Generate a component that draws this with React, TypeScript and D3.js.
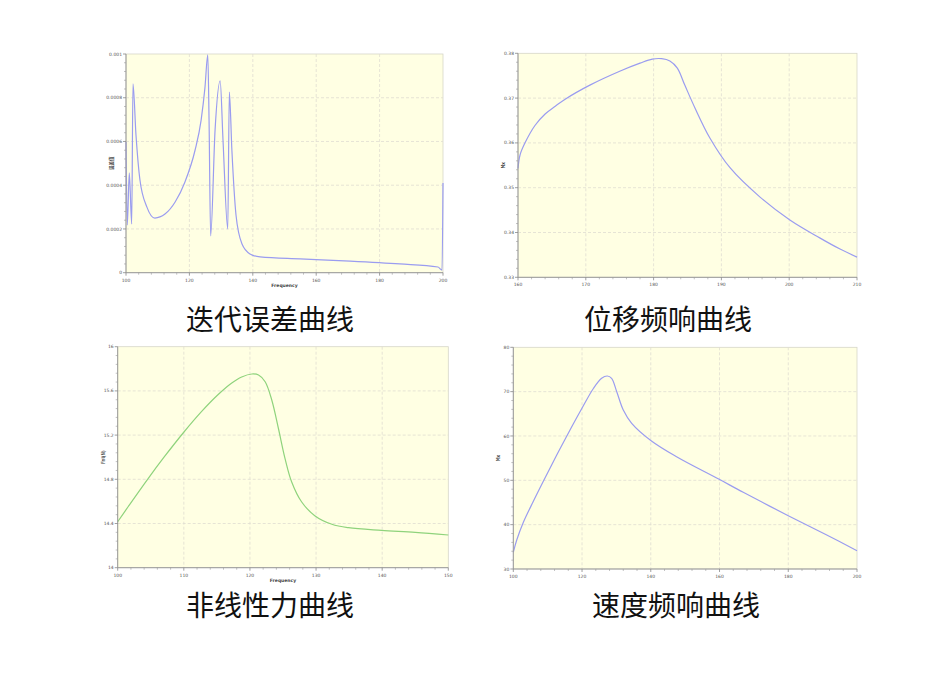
import React from 'react';
import * as d3 from 'd3';

// 迭代误差曲线
const errFreq = [100, 100.41, 101.04, 101.8, 102.2, 103.15, 104.4, 106.6, 109.1, 112.3, 115.5, 118.6, 121.8, 123.7, 124.9, 125.8, 126.2, 126.7, 128.1, 129.7, 130.6, 132.1, 132.6, 133.4, 134.7, 136.6, 139.1, 142.3, 154.9, 170.7, 186.4, 198.4, 199.7, 200];
const errValue = [0.000598, 0.000218, 0.000456, 0.000223, 0.000863, 0.00063, 0.000424, 0.0003, 0.00025, 0.000268, 0.000323, 0.000415, 0.000561, 0.000698, 0.000845, 0.000996, 0.000698, 0.000168, 0.000653, 0.000877, 0.000607, 0.0002, 0.000826, 0.000561, 0.000264, 0.000131, 0.000086, 0.000072, 0.000063, 0.000053, 0.00004, 0.000026, 0.000012, 0.00041];
const errXTicks = [100, 120, 140, 160, 180, 200];
const errYTicks = [0, 0.0002, 0.0004, 0.0006, 0.0008, 0.001];

// 位移频响曲线
const dispFreq = [160, 160.3, 161.0, 162.5, 164.0, 165.5, 166.9, 170.6, 175.0, 178.0, 179.8, 181.2, 182.4, 183.5, 184.6, 186.1, 188.3, 191.3, 195.7, 200.1, 204.5, 207.5, 210];
const dispValue = [0.3543, 0.3573, 0.3599, 0.36388, 0.36645, 0.36819, 0.36971, 0.3729, 0.376, 0.3778, 0.3787, 0.3788, 0.3783, 0.3767, 0.3729, 0.3678, 0.3611, 0.3544, 0.3479, 0.3428, 0.3388, 0.3363, 0.3345];
const dispXTicks = [160, 170, 180, 190, 200, 210];
const dispYTicks = [0.33, 0.34, 0.35, 0.36, 0.37, 0.38];

// 非线性力曲线
const forceFreq = [100, 101.6, 104.6, 107.15, 109.9, 112.7, 115.2, 117.2, 118.75, 120.3, 121.3, 122.3, 123.3, 124.3, 125.3, 126.3, 127.8, 129.8, 132.4, 134.9, 139.9, 145.0, 150];
const forceValue = [14.416, 14.554, 14.807, 15.011, 15.219, 15.414, 15.567, 15.669, 15.726, 15.753, 15.744, 15.683, 15.518, 15.262, 14.99, 14.778, 14.597, 14.471, 14.393, 14.362, 14.338, 14.32, 14.296];
const forceXTicks = [100, 110, 120, 130, 140, 150];
const forceYTicks = [14, 14.4, 14.8, 15.2, 15.6, 16];

// 速度频响曲线
const velFreq = [100, 101.0, 102.9, 105.8, 108.7, 112.6, 116.5, 120.1, 123.3, 125.7, 127.35, 128.6, 130.1, 132.0, 134.45, 140.1, 147.5, 159.9, 166.9, 180.0, 191.2, 200];
const velValue = [33.77, 36.54, 40.49, 45.22, 49.73, 55.64, 61.35, 66.42, 70.71, 73.01, 73.53, 73.01, 69.99, 65.86, 62.86, 58.94, 55.33, 50.23, 47.3, 42.02, 37.67, 34.13];
const velXTicks = [100, 120, 140, 160, 180, 200];
const velYTicks = [30, 40, 50, 60, 70, 80];

const BG = '#ffffe3';
const BLUE = '#9a9cf0';
const GREEN = '#8fd37c';
const CJK = '"Noto Sans CJK SC", "Noto Sans", sans-serif';

interface PanelProps {
  left: number;
  top: number;
  width: number;
  height: number;
  xs: number[];
  ys: number[];
  xTicks: number[];
  yTicks: number[];
  color: string;
  yTitle: string;
  xTitle?: string;
  caption: string;
  captionX: number;
  captionY: number;
  curve?: d3.CurveFactory;
}

const Panel: React.FC<PanelProps> = ({
  left, top, width, height, xs, ys, xTicks, yTicks, color, yTitle, xTitle, caption, captionX, captionY,
  curve = d3.curveCatmullRom.alpha(0.5)
}) => {
  const x = d3.scaleLinear().domain([xTicks[0], xTicks[xTicks.length - 1]]).range([0, width]);
  const y = d3.scaleLinear().domain([yTicks[0], yTicks[yTicks.length - 1]]).range([height, 0]);

  const line = d3.line<number>()
    .x((_, i) => x(xs[i]))
    .y((d) => y(d))
    .curve(curve);

  // 5 subdivisions between major ticks
  const minor = (ticks: number[]) => {
    const out: number[] = [];
    for (let i = 0; i < ticks.length - 1; i++) {
      const step = (ticks[i + 1] - ticks[i]) / 5;
      for (let k = 1; k < 5; k++) out.push(ticks[i] + step * k);
    }
    return out;
  };

  return (
    <g>
      <g transform={`translate(${left},${top})`}>
        <rect width={width} height={height} fill={BG} stroke="#d6d6c8" strokeWidth={0.8} />
        {/* grid */}
        {yTicks.slice(1, -1).map((t) => (
          <line key={'gy' + t} x1={0} x2={width} y1={y(t)} y2={y(t)}
            stroke="#e0ddd2" strokeWidth={0.8} strokeDasharray="3,2" />
        ))}
        {xTicks.slice(1, -1).map((t) => (
          <line key={'gx' + t} x1={x(t)} x2={x(t)} y1={0} y2={height}
            stroke="#e0ddd2" strokeWidth={0.8} strokeDasharray="3,2" />
        ))}
        <path d={line(ys) || ''} fill="none" stroke={color} strokeWidth={1.2} />
        {/* axes */}
        <line x1={0} x2={0} y1={0} y2={height} stroke="#9a9a9a" strokeWidth={1} />
        <line x1={0} x2={width} y1={height} y2={height} stroke="#9a9a9a" strokeWidth={1} />
        {yTicks.map((t) => (
          <g key={'ty' + t}>
            <line x1={-3} x2={0} y1={y(t)} y2={y(t)} stroke="#888" strokeWidth={0.8} />
            <text x={-4} y={y(t)} dy="0.35em" textAnchor="end" fontSize={4.5}
              fontFamily="DejaVu Sans, sans-serif" fill="#555">{String(t)}</text>
          </g>
        ))}
        {minor(yTicks).map((t, i) => (
          <line key={'my' + i} x1={-2} x2={0} y1={y(t)} y2={y(t)} stroke="#999" strokeWidth={0.6} />
        ))}
        {xTicks.map((t) => (
          <g key={'tx' + t}>
            <line x1={x(t)} x2={x(t)} y1={height} y2={height + 3} stroke="#888" strokeWidth={0.8} />
            <text x={x(t)} y={height + 9} textAnchor="middle" fontSize={4.5}
              fontFamily="DejaVu Sans, sans-serif" fill="#555">{String(t)}</text>
          </g>
        ))}
        {minor(xTicks).map((t, i) => (
          <line key={'mx' + i} x1={x(t)} x2={x(t)} y1={height} y2={height + 2} stroke="#999" strokeWidth={0.6} />
        ))}
        <text transform={`translate(${-13},${height / 2}) rotate(-90)`} textAnchor="middle"
          fontSize={4.5} fontWeight="bold" fontFamily={CJK} fill="#444">{yTitle}</text>
        {xTitle && (
          <text x={width / 2} y={height + 14} textAnchor="middle" fontSize={4.5} fontWeight="bold"
            fontFamily="DejaVu Sans, sans-serif" fill="#444">{xTitle}</text>
        )}
      </g>
      <text x={captionX} y={captionY} textAnchor="middle" fontSize={28} fontFamily={CJK} fill="#111">{caption}</text>
    </g>
  );
};

export default function App() {
  return (
    <svg width={951} height={680} style={{ position: 'absolute', left: 0, top: 0, background: '#fff' }}>
      <Panel left={126} top={54} width={317} height={218.7} xs={errFreq} ys={errValue}
        xTicks={errXTicks} yTicks={errYTicks} color={BLUE} yTitle="误差值" xTitle="Frequency"
        caption="迭代误差曲线" captionX={270} captionY={330} curve={d3.curveMonotoneX} />
      <Panel left={518} top={53.3} width={339} height={224} xs={dispFreq} ys={dispValue}
        xTicks={dispXTicks} yTicks={dispYTicks} color={BLUE} yTitle="Mx"
        caption="位移频响曲线" captionX={668} captionY={330} />
      <Panel left={117.7} top={346.7} width={330.6} height={221} xs={forceFreq} ys={forceValue}
        xTicks={forceXTicks} yTicks={forceYTicks} color={GREEN} yTitle="Fnl(N)" xTitle="Frequency"
        caption="非线性力曲线" captionX={270} captionY={616} />
      <Panel left={513.3} top={347.3} width={343.7} height={221.7} xs={velFreq} ys={velValue}
        xTicks={velXTicks} yTicks={velYTicks} color={BLUE} yTitle="Mx"
        caption="速度频响曲线" captionX={676} captionY={616} />
    </svg>
  );
}
